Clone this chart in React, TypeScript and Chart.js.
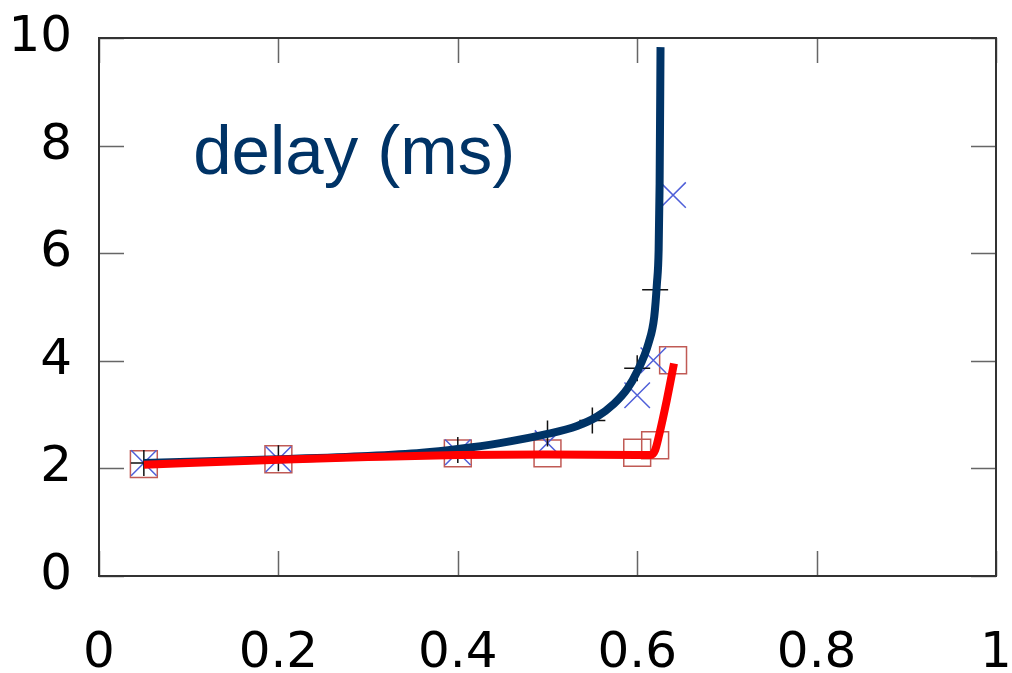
import React, { useEffect, useRef } from "react";
import { Chart, registerables } from "chart.js";

Chart.register(...registerables);

// Axis ticks
const xTickValues = [0, 0.2, 0.4, 0.6, 0.8, 1];
const xTickLabels = ["0", "0.2", "0.4", "0.6", "0.8", "1"];
const yTickValues = [0, 2, 4, 6, 8, 10];
const yTickLabels = ["0", "2", "4", "6", "8", "10"];

// Model curve (navy)
const modelX = [0.05, 0.2, 0.3, 0.36, 0.4, 0.447, 0.5, 0.533, 0.555, 0.574, 0.589, 0.6, 0.6127, 0.619, 0.622, 0.6239, 0.625, 0.626];
const modelY = [2.1, 2.17, 2.23, 2.29, 2.36, 2.47, 2.64, 2.79, 2.96, 3.2, 3.48, 3.8, 4.33, 4.82, 5.44, 6.06, 7.3, 9.83];

// Red curve
const redX = [0.05, 0.2, 0.3, 0.4, 0.5, 0.6, 0.615, 0.62, 0.624, 0.633, 0.641];
const redY = [2.07, 2.16, 2.21, 2.25, 2.26, 2.25, 2.25, 2.34, 2.59, 3.27, 3.95];

// Measured points
const plusX = [0.05, 0.2, 0.4, 0.5, 0.55, 0.6, 0.62];
const plusY = [2.1, 2.19, 2.34, 2.65, 2.89, 3.86, 5.32];
const crossX = [0.05, 0.2, 0.4, 0.5, 0.6, 0.618, 0.64];
const crossY = [2.1, 2.17, 2.3, 2.47, 3.36, 4.01, 7.08];
const squareX = [0.05, 0.2, 0.4, 0.5, 0.6, 0.62, 0.64];
const squareY = [2.08, 2.17, 2.28, 2.28, 2.29, 2.43, 4.01];

const titleText = "delay (ms)";
const titleAt = { x: 0.105, y: 7.47 };

const zip = (xs: number[], ys: number[]) => xs.map((x, i) => ({ x, y: ys[i] }));

const framePlugin = {
  id: "frame",
  beforeDatasetsDraw(chart: any) {
    const { ctx, chartArea: a, scales } = chart;
    const tl = 25;
    ctx.save();
    ctx.strokeStyle = "#666";
    ctx.lineWidth = 1.5;
    ctx.beginPath();
    xTickValues.forEach((v) => {
      const px = Math.round(scales.x.getPixelForValue(v)) + 0.5;
      ctx.moveTo(px, a.bottom);
      ctx.lineTo(px, a.bottom - tl);
      ctx.moveTo(px, a.top);
      ctx.lineTo(px, a.top + tl);
    });
    yTickValues.forEach((v) => {
      const py = Math.round(scales.y.getPixelForValue(v)) + 0.5;
      ctx.moveTo(a.left, py);
      ctx.lineTo(a.left + tl, py);
      ctx.moveTo(a.right, py);
      ctx.lineTo(a.right - tl, py);
    });
    ctx.stroke();
    ctx.strokeStyle = "#333";
    ctx.lineWidth = 2;
    ctx.strokeRect(a.left, a.top, a.right - a.left, a.bottom - a.top);
    ctx.fillStyle = "#003366";
    ctx.font = '69px "Liberation Sans", Arial, sans-serif';
    ctx.textAlign = "left";
    ctx.textBaseline = "alphabetic";
    ctx.fillText(titleText, scales.x.getPixelForValue(titleAt.x), scales.y.getPixelForValue(titleAt.y));
    ctx.restore();
  },
};

const zeroPadding = () => ({ left: 0, top: 0, right: 0, bottom: 0 });

export default function App() {
  const ref = useRef<HTMLCanvasElement | null>(null);
  useEffect(() => {
    document.body.style.margin = "0";
    const canvas = ref.current;
    if (!canvas) return;
    const tickFont = { family: '"DejaVu Sans", sans-serif', size: 50 };
    const chart = new Chart(canvas, {
      type: "scatter",
      data: {
        datasets: [
          {
            label: "red",
            data: zip(redX, redY),
            showLine: true,
            borderColor: "#ff0000",
            borderWidth: 8,
            pointRadius: 0,
            cubicInterpolationMode: "monotone",
          } as any,
          {
            label: "model",
            data: zip(modelX, modelY),
            showLine: true,
            borderColor: "#003366",
            borderWidth: 8,
            pointRadius: 0,
            cubicInterpolationMode: "monotone",
          } as any,
          {
            label: "plus",
            data: zip(plusX, plusY),
            pointStyle: "cross",
            pointRadius: 13,
            borderColor: "#111",
            backgroundColor: "transparent",
            borderWidth: 1.5,
          },
          {
            label: "cross",
            data: zip(crossX, crossY),
            pointStyle: "crossRot",
            pointRadius: 18,
            borderColor: "#4f5fd8",
            backgroundColor: "transparent",
            borderWidth: 1.5,
          },
          {
            label: "square",
            data: zip(squareX, squareY),
            pointStyle: "rect",
            pointRadius: 19,
            borderColor: "#c05a55",
            backgroundColor: "transparent",
            borderWidth: 1.5,
          },
        ],
      },
      options: {
        animation: false,
        responsive: false,
        layout: { autoPadding: false, padding: { top: 38, right: 16, left: 0, bottom: 0 } },
        plugins: {
          legend: { display: false },
          tooltip: { enabled: false },
          title: { display: false },
        },
        scales: {
          x: {
            type: "linear",
            min: 0,
            max: 1,
            grid: { display: false },
            border: { display: false },
            afterBuildTicks: (s: any) => {
              s.ticks = xTickValues.map((v) => ({ value: v }));
            },
            afterFit: (s: any) => {
              s.height = 97;
              s.paddingLeft = 0;
              s.paddingRight = 0;
              s.getPadding = zeroPadding;
            },
            ticks: {
              font: tickFont,
              color: "#000",
              padding: 40,
              maxRotation: 0,
              autoSkip: false,
              callback: (v: any) => xTickLabels[xTickValues.indexOf(Number(v))] ?? "",
            },
          },
          y: {
            type: "linear",
            min: 0,
            max: 10,
            grid: { display: false },
            border: { display: false },
            afterBuildTicks: (s: any) => {
              s.ticks = yTickValues.map((v) => ({ value: v }));
            },
            afterFit: (s: any) => {
              s.width = 99;
              s.paddingTop = 0;
              s.paddingBottom = 0;
              s.getPadding = zeroPadding;
            },
            ticks: {
              font: tickFont,
              color: "#000",
              padding: 19,
              autoSkip: false,
              callback: (v: any) => yTickLabels[yTickValues.indexOf(Number(v))] ?? "",
            },
          },
        },
      },
      plugins: [framePlugin],
    } as any);
    return () => chart.destroy();
  }, []);
  return (
    <div style={{ width: 1012, height: 673, background: "#fff", overflow: "hidden" }}>
      <canvas ref={ref} width={1012} height={673} style={{ display: "block" }} />
    </div>
  );
}
